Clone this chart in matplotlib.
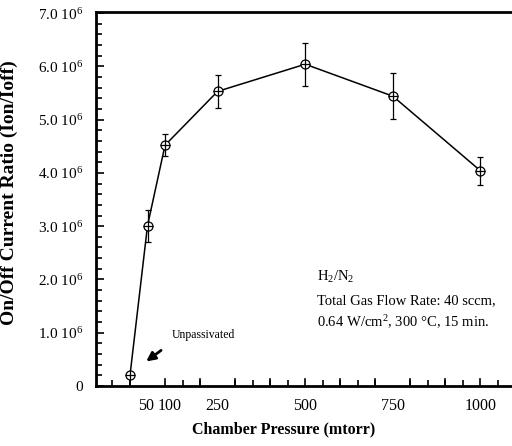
import matplotlib
matplotlib.use("Agg")
import matplotlib.pyplot as plt
from matplotlib.ticker import MultipleLocator, FixedLocator
from matplotlib.transforms import ScaledTranslation

plt.rcParams["font.family"] = ["Liberation Serif", "DejaVu Serif"]
plt.rcParams["mathtext.fontset"] = "custom"
plt.rcParams["mathtext.rm"] = "Liberation Serif"
plt.rcParams["mathtext.it"] = "Liberation Serif:italic"
plt.rcParams["mathtext.bf"] = "Liberation Serif:bold"

# data (pressure in mtorr, ratio in units of 1e6)
pressure = [0, 50, 100, 250, 500, 750, 1000]
ratio = [0.2, 3.01, 4.52, 5.53, 6.04, 5.44, 4.04]
ratio_err = [0.0, 0.30, 0.21, 0.31, 0.40, 0.43, 0.26]

x_ticks = [50, 100, 250, 500, 750, 1000]
y_ticks = [0, 1, 2, 3, 4, 5, 6, 7]
y_labels = ["0"] + ["%.1f 10$^6$" % v for v in y_ticks[1:]]

fig = plt.figure(figsize=(5.12, 4.46), dpi=100)
ax = fig.add_axes([96 / 512, 1 - 386 / 446, 1 - 96 / 512, (386 - 12) / 446])

scale = 1e6
y = [v * scale for v in ratio]
yerr = [e * scale for e in ratio_err]

ax.errorbar(pressure, y, yerr=yerr, color="black", lw=1.1, capsize=2.5,
            elinewidth=0.9, capthick=0.9, zorder=2)
ax.plot(pressure, y, "o", ms=6.5, mfc="white", mec="black", mew=0.9, zorder=3)
ax.plot(pressure, y, "+", ms=6.5, color="black", mew=0.9, zorder=4)

ax.set_xlim(-97, 1090)
ax.set_ylim(0, 7.02e6)

ax.xaxis.set_major_locator(FixedLocator(x_ticks))
ax.set_xticklabels([str(v) for v in x_ticks])
ax.yaxis.set_major_locator(FixedLocator([v * scale for v in y_ticks]))
ax.set_yticklabels(y_labels)
ax.yaxis.set_minor_locator(MultipleLocator(0.2e6))
ax.tick_params(axis="y", which="major", direction="in", length=6, width=1.2,
               labelsize=11, pad=9)
ax.tick_params(axis="y", which="minor", direction="in", length=4, width=1.2)

# x ticks: long marks every 100, short every 50, labels only at chosen values
ax.tick_params(axis="x", which="major", length=0, labelsize=11.5, pad=9)
ax.xaxis.set_minor_locator(MultipleLocator(50))
ax.tick_params(axis="x", which="minor", direction="in", length=4, width=1.2)
for xv in range(0, 1100, 100):
    ax.plot([xv, xv], [0, 0.13e6], color="black", lw=1.2, clip_on=False, zorder=1)

# "50 100" sit close together; nudge them apart a little
major = ax.xaxis.get_major_ticks()
major[0].label1.set_transform(major[0].label1.get_transform()
                              + ScaledTranslation(-1.5 / 100, 0, fig.dpi_scale_trans))
major[1].label1.set_transform(major[1].label1.get_transform()
                              + ScaledTranslation(4.5 / 100, 0, fig.dpi_scale_trans))

ax.spines["right"].set_visible(False)
for s in ["left", "bottom", "top"]:
    ax.spines[s].set_linewidth(2)

ax.set_xlabel("Chamber Pressure (mtorr)", fontsize=11.5, fontweight="bold")
ax.xaxis.set_label_coords(0.45, -0.095)
ax.set_ylabel("On/Off Current Ratio (Ion/Ioff)", fontsize=14, fontweight="bold")
ax.yaxis.set_label_coords(-0.188, 0.517)

ax.annotate("", xy=(40, 0.43e6), xytext=(95, 0.7e6),
            arrowprops=dict(arrowstyle="-|>", color="black", lw=2, mutation_scale=13))
ax.text(120, 0.95e6, "Unpassivated", fontsize=8.5, ha="left", va="center")

ax.text(535, 2.05e6, "H$_2$/N$_2$", fontsize=10.5, ha="left", va="center")
ax.text(535, 1.6e6, "Total Gas Flow Rate: 40 sccm,", fontsize=10.5, ha="left", va="center")
ax.text(535, 1.2e6, "0.64 W/cm$^2$, 300 °C, 15 min.", fontsize=10.5, ha="left", va="center")

fig.savefig("out.png", dpi=100)
